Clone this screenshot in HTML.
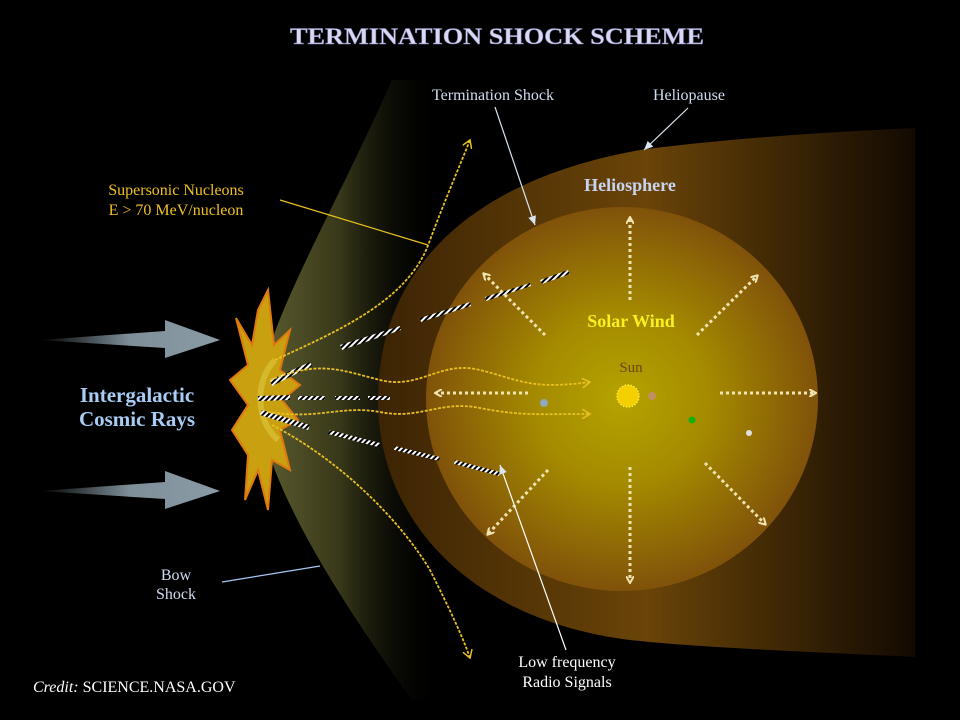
<!DOCTYPE html>
<html><head><meta charset="utf-8"><style>
html,body{margin:0;padding:0;background:#000;}
svg{display:block;}
text{font-family:"Liberation Serif",serif;}
</style></head><body>
<svg width="960" height="720" viewBox="0 0 960 720" xmlns="http://www.w3.org/2000/svg">
<defs>
<linearGradient id="helio" x1="0" y1="0" x2="1" y2="0">
<stop offset="0" stop-color="#3c2404"/><stop offset="0.5" stop-color="#6a4408"/><stop offset="1" stop-color="#120a02"/>
</linearGradient>
<radialGradient id="inner" cx="0.5" cy="0.5" r="0.5">
<stop offset="0" stop-color="#b4a400"/><stop offset="0.45" stop-color="#a48a00"/><stop offset="1" stop-color="#80520a"/>
</radialGradient>
<linearGradient id="bow" x1="0" y1="0" x2="1" y2="0">
<stop offset="0" stop-color="#5e5e30"/><stop offset="0.45" stop-color="#38381a"/><stop offset="1" stop-color="#000" stop-opacity="0"/>
</linearGradient>
<linearGradient id="arr" x1="0" y1="0" x2="1" y2="0">
<stop offset="0" stop-color="#000"/><stop offset="0.5" stop-color="#7f8f99"/><stop offset="1" stop-color="#8a9ba6"/>
</linearGradient>
<pattern id="hatch" width="4" height="4" patternUnits="userSpaceOnUse" patternTransform="rotate(45)">
<rect width="4" height="4" fill="#000"/><rect width="2" height="4" fill="#fff"/>
</pattern>
<marker id="ah" markerWidth="8" markerHeight="8" refX="6" refY="4" orient="auto" markerUnits="userSpaceOnUse">
<path d="M0,0 L7,4 L0,8" fill="none" stroke="#f0e4b0" stroke-width="2"/>
</marker>
<marker id="ay" markerWidth="10" markerHeight="10" refX="8" refY="5" orient="auto" markerUnits="userSpaceOnUse">
<path d="M0,0 L8,5 L0,10" fill="none" stroke="#e8c020" stroke-width="1.5"/>
</marker>
<marker id="aw" markerWidth="10" markerHeight="10" refX="9" refY="5" orient="auto" markerUnits="userSpaceOnUse">
<path d="M0,1 L9,5 L0,9 Z" fill="#d8e4f0"/>
</marker>
</defs>
<rect width="960" height="720" fill="#000"/>
<!-- bow shock -->
<path d="M392,80 C330,220 262,330 258,400 C262,480 340,600 412,700 L440,700 L440,80 Z" fill="url(#bow)"/>
<!-- heliosphere -->
<path d="M915,128 L915,657 C820,652 700,648 630,640 C470,620 378,520 378,400 C378,270 470,180 640,150 C730,138 830,132 915,128 Z" fill="url(#helio)"/>
<ellipse cx="622" cy="399" rx="196" ry="192" fill="url(#inner)"/>
<!-- gray arrows -->
<path d="M40,340 L165,331 L165,320 L220,340 L165,358 L165,348 Z" fill="url(#arr)"/>
<path d="M40,491 L165,482 L165,471 L220,491 L165,509 L165,499 Z" fill="url(#arr)"/>
<!-- starburst -->
<polygon points="268,290 274,345 290,330 280,370 300,385 282,400 298,420 280,430 290,470 272,460 268,510 258,470 245,500 248,455 232,430 248,405 230,380 248,365 236,318 252,345 258,310" fill="#c8a010" stroke="#e07810" stroke-width="2"/>
<path d="M275,360 C255,380 255,420 278,440" fill="none" stroke="#e0c840" stroke-width="6" opacity="0.6"/>
<!-- hatched beams -->
<g fill="url(#hatch)">
<polygon points="270,380 310,362 312,366 272,386"/>
<polygon points="340,345 400,326 401,330 342,350"/>
<polygon points="420,318 470,302 471,306 421,322"/>
<polygon points="485,297 530,283 531,286 486,301"/>
<polygon points="540,280 568,270 570,274 542,284"/>
<polygon points="258,396 290,395 290,400 258,401"/>
<polygon points="298,396 325,396 325,400 298,400"/>
<polygon points="335,396 360,396 360,400 335,400"/>
<polygon points="368,396 390,396 390,400 368,400"/>
<polygon points="262,410 310,425 308,430 260,415"/>
<polygon points="330,430 380,443 378,447 328,434"/>
<polygon points="395,446 440,457 439,461 394,450"/>
<polygon points="455,460 500,472 499,476 454,464"/>
</g>
<!-- yellow curves -->
<g fill="none" stroke="#e8c020" stroke-width="1.8" stroke-dasharray="3,1.5">
<path d="M275,360 C340,330 410,300 430,240 C445,200 458,170 470,140" marker-end="url(#ay)"/>
<path d="M270,380 C320,360 340,370 380,380 C420,390 440,360 480,370 C520,380 530,390 590,382" marker-end="url(#ay)"/>
<path d="M268,412 C320,420 340,405 380,412 C420,420 440,400 480,408 C520,416 540,414 590,414" marker-end="url(#ay)"/>
<path d="M272,425 C340,460 400,520 430,570 C450,610 462,635 470,658" marker-end="url(#ay)"/>
</g>
<!-- solar wind arrows -->
<g stroke="#f0e4b0" stroke-width="3" stroke-dasharray="3,3" fill="none">
<path d="M630,300 L630,218" marker-end="url(#ah)"/>
<path d="M545,335 L484,274" marker-end="url(#ah)"/>
<path d="M697,335 L757,276" marker-end="url(#ah)"/>
<path d="M528,393 L436,393" marker-end="url(#ah)"/>
<path d="M720,393 L815,393" marker-end="url(#ah)"/>
<path d="M548,470 L488,534" marker-end="url(#ah)"/>
<path d="M630,467 L630,582" marker-end="url(#ah)"/>
<path d="M705,463 L765,524" marker-end="url(#ah)"/>
</g>
<!-- sun and planets -->
<circle cx="628" cy="396" r="11" fill="#f4d000" stroke="#ffe840" stroke-width="1.5" stroke-dasharray="1.5,1.5"/>
<circle cx="652" cy="396" r="4" fill="#c09060"/>
<circle cx="544" cy="403" r="4" fill="#90a8c0"/>
<circle cx="692" cy="420" r="3.5" fill="#10b010"/>
<circle cx="749" cy="433" r="3" fill="#e0e0e0"/>
<!-- pointers -->
<g stroke-width="1.2" fill="none">
<path d="M280,200 L428,245" stroke="#e8c020"/>
<path d="M495,107 L535,225" stroke="#d8e4f0" marker-end="url(#aw)"/>
<path d="M688,108 L644,150" stroke="#d8e4f0" marker-end="url(#aw)"/>
<path d="M222,582 L320,566" stroke="#a8c8f0"/>
<path d="M566,650 L500,465" stroke="#ffffff" marker-end="url(#aw)"/>
</g>
<!-- texts -->
<text x="497" y="44" text-anchor="middle" font-size="23" font-weight="bold" fill="#d8d8f4" stroke="#8080b0" stroke-width="0.5" textLength="414" lengthAdjust="spacingAndGlyphs">TERMINATION SHOCK SCHEME</text>
<text x="493" y="100" text-anchor="middle" font-size="16" fill="#d0dcf0">Termination Shock</text>
<text x="689" y="100" text-anchor="middle" font-size="16" fill="#d0dcf0">Heliopause</text>
<text x="630" y="191" text-anchor="middle" font-size="18" font-weight="bold" fill="#c8d4f0">Heliosphere</text>
<text x="176" y="195" text-anchor="middle" font-size="16" fill="#f0c020">Supersonic Nucleons</text>
<text x="176" y="215" text-anchor="middle" font-size="16" fill="#f0c020">E &gt; 70 MeV/nucleon</text>
<text x="631" y="327" text-anchor="middle" font-size="18" font-weight="bold" fill="#f8f020">Solar Wind</text>
<text x="631" y="372" text-anchor="middle" font-size="15" fill="#6a4808">Sun</text>
<text x="137" y="402" text-anchor="middle" font-size="21" font-weight="bold" fill="#a8ccf4">Intergalactic</text>
<text x="137" y="426" text-anchor="middle" font-size="21" font-weight="bold" fill="#a8ccf4">Cosmic Rays</text>
<text x="176" y="580" text-anchor="middle" font-size="16" fill="#d0dcf0">Bow</text>
<text x="176" y="599" text-anchor="middle" font-size="16" fill="#d0dcf0">Shock</text>
<text x="567" y="667" text-anchor="middle" font-size="16" fill="#ffffff">Low frequency</text>
<text x="567" y="687" text-anchor="middle" font-size="16" fill="#ffffff">Radio Signals</text>
<text x="33" y="692" font-size="16" fill="#ffffff"><tspan font-style="italic">Credit:</tspan> SCIENCE.NASA.GOV</text>
</svg>
</body></html>
